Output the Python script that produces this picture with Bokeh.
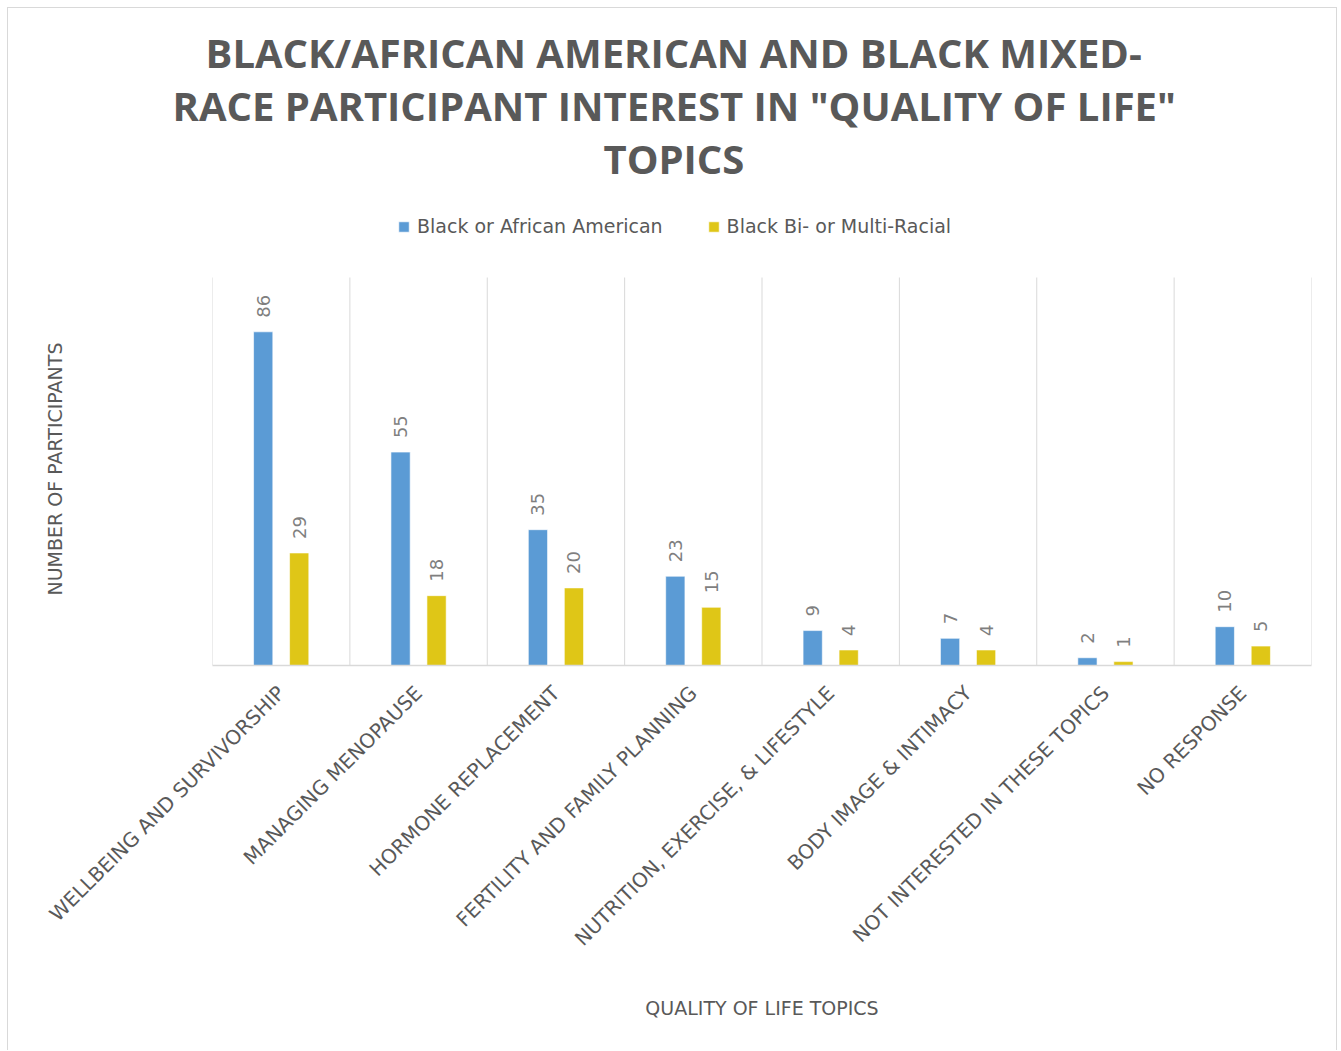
from math import pi
from bokeh.plotting import figure
from bokeh.core.properties import value
from bokeh.models import ColumnDataSource, FixedTicker, LabelSet, Legend, LegendItem, Title
from bokeh.embed import file_html
from bokeh.resources import INLINE

# ---- data ----
topics = [
    "WELLBEING AND SURVIVORSHIP",
    "MANAGING MENOPAUSE",
    "HORMONE REPLACEMENT",
    "FERTILITY AND FAMILY PLANNING",
    "NUTRITION, EXERCISE, & LIFESTYLE",
    "BODY IMAGE & INTIMACY",
    "NOT INTERESTED IN THESE TOPICS",
    "NO RESPONSE",
]
black_african_american = [86, 55, 35, 23, 9, 7, 2, 10]
black_multiracial = [29, 18, 20, 15, 4, 4, 1, 5]
series_names = ["Black or African American", "Black Bi- or Multi-Racial"]
title_lines = [
    "BLACK/AFRICAN AMERICAN AND BLACK MIXED-",
    'RACE PARTICIPANT INTEREST IN "QUALITY OF LIFE"',
    "TOPICS",
]
x_title = "QUALITY OF LIFE TOPICS"
y_title = "NUMBER OF PARTICIPANTS"
y_axis_max = 100

# ---- styling ----
BLUE = "#5B9BD5"
YELLOW = "#DFC617"
TXT = "#595959"
LBL = "#7F7F7F"
GRID = "#D9D9D9"
OFFSET = 0.131
BAR_W = 0.14
title_offsets = [-7, -40, 391]
title_standoffs = [-4, -4, -4]
FRAME_TOP_PX = 192       # canvas px (page y = 200)
FRAME_BOTTOM_PX = 657    # canvas px (page y = 665)
PX_PER_100 = 388         # px height of 0..100 in the reference

n = len(topics)
centers = [i + 0.5 for i in range(n)]
bounds = list(range(n + 1))
src_a = ColumnDataSource(dict(x=[c - OFFSET for c in centers], y=black_african_american,
                              t=[str(v) for v in black_african_american]))
src_b = ColumnDataSource(dict(x=[c + OFFSET for c in centers], y=black_multiracial,
                              t=[str(v) for v in black_multiracial]))

y_top = y_axis_max * (FRAME_BOTTOM_PX - FRAME_TOP_PX) / PX_PER_100

p = figure(width=1330, height=1043, x_range=(0, n), y_range=(0, y_top),
           output_backend="svg", toolbar_location=None, title_location=None,
           min_border_left=204, min_border_right=27, min_border_top=FRAME_TOP_PX,
           min_border_bottom=1043 - FRAME_BOTTOM_PX, background_fill_color="white",
           border_fill_color="white", outline_line_color=None)
p.styles = {"margin-left": "7px", "margin-top": "7px",
            "border-top": "1px solid #D9D9D9", "border-left": "1px solid #D9D9D9",
            "border-right": "1px solid #D9D9D9"}

# category separators (vertical gridlines up to the axis maximum)
p.segment(x0=bounds, y0=[0] * len(bounds), x1=bounds, y1=[y_axis_max] * len(bounds),
          line_color=GRID, line_width=1)

r_a = p.vbar(x="x", top="y", width=BAR_W, source=src_a, fill_color=BLUE, line_color="white", line_width=0.6)
r_b = p.vbar(x="x", top="y", width=BAR_W, source=src_b, fill_color=YELLOW, line_color="white", line_width=0.6)

for src in (src_a, src_b):
    p.add_layout(LabelSet(x="x", y="y", text="t", source=src, angle=pi / 2,
                          y_offset=14, text_align="left", text_baseline="middle",
                          text_font=value("DejaVu Sans"), text_font_size="18px",
                          text_color=LBL))

# x axis
xa = p.xaxis[0]
xa.ticker = FixedTicker(ticks=centers)
xa.major_label_overrides = {c: t for c, t in zip(centers, topics)}
xa.major_label_orientation = pi / 4
xa.major_label_text_font = "DejaVu Sans"
xa.major_label_text_font_size = "20px"
xa.major_label_text_color = TXT
xa.major_label_standoff = 18
xa.major_tick_line_color = None
xa.minor_tick_line_color = None
xa.axis_line_color = GRID
xa.axis_line_width = 1.5
xa.axis_label = x_title
xa.axis_label_text_font = "DejaVu Sans"
xa.axis_label_text_font_size = "19px"
xa.axis_label_text_font_style = "normal"
xa.axis_label_text_color = TXT
xa.axis_label_standoff = 35

# y axis: no ticks or line; its title is a left-side title centred on 0..100
p.yaxis.visible = False
p.add_layout(Title(text=" ", text_font_size="1px", standoff=144), "left")
p.add_layout(Title(text=y_title, align="left", offset=70, text_font="DejaVu Sans",
                   text_font_size="19px", text_font_style="normal",
                   text_color=TXT, standoff=0), "left")

p.xgrid.grid_line_color = None
p.ygrid.grid_line_color = None

legend = Legend(items=[LegendItem(label=series_names[0], renderers=[r_a]),
                       LegendItem(label=series_names[1], renderers=[r_b])],
                orientation="horizontal", location=(185, 428),
                label_text_font="DejaVu Sans", label_text_font_size="19px",
                label_text_color=TXT, glyph_width=13, glyph_height=13,
                spacing=44, label_standoff=7, padding=0, margin=0,
                border_line_color=None, background_fill_alpha=0)
p.add_layout(legend, "center")

# spacer between the title block and the plot frame
p.add_layout(Title(text=" ", text_font_size="1px", standoff=14), "above")
for line, off, so in reversed(list(zip(title_lines, title_offsets, title_standoffs))):
    p.add_layout(Title(text=line, align="left", offset=off, text_font="Open Sans",
                       text_font_size="40px", text_font_style="bold",
                       text_color=TXT, standoff=so), "above")

open("out.html", "w").write(file_html(p, INLINE))
